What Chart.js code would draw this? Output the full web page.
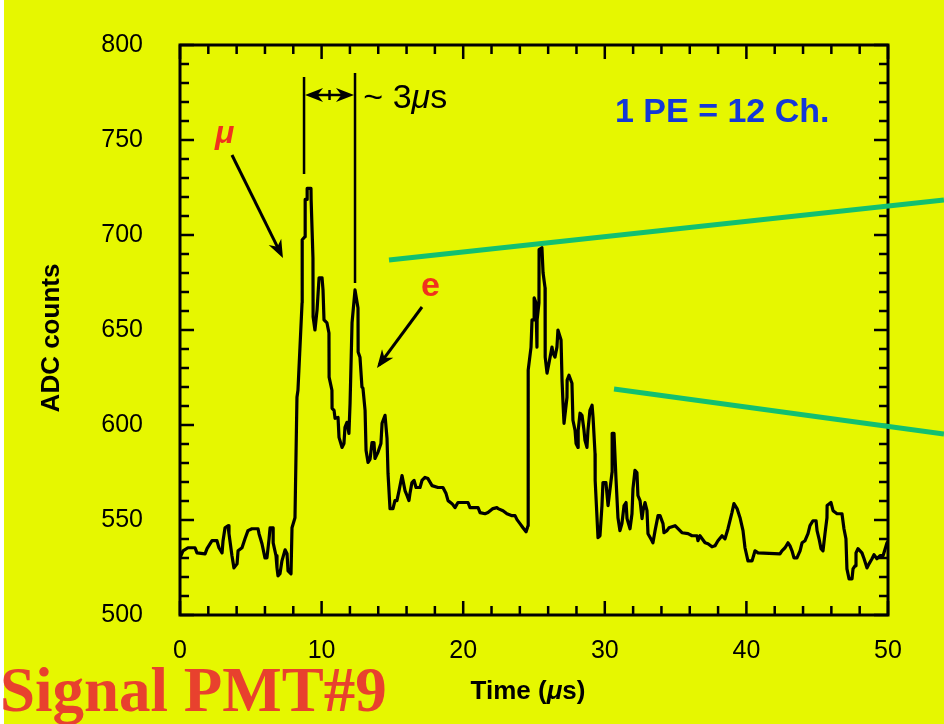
<!DOCTYPE html>
<html>
<head>
<meta charset="utf-8">
<title>Signal PMT#9</title>
<script src="https://cdn.jsdelivr.net/npm/chart.js@4.4.1/dist/chart.umd.min.js"></script>
<style>
  html, body { margin: 0; padding: 0; background: #e6f700; }
  canvas { display: block; }
</style>
</head>
<body>
<canvas id="trace" width="944" height="724"></canvas>
<script>
// Sampled PMT waveform: time in microseconds and ADC counts
const timeUs = [
  0,0.21,0.56,1.06,1.20,1.77,1.91,2.26,2.61,2.75,
  2.97,3.04,3.18,3.39,3.46,3.67,3.81,4.03,4.10,4.38,
  4.59,4.80,5.08,5.51,5.58,5.79,6.00,6.14,6.29,6.36,
  6.57,6.58,6.78,6.85,6.92,7.06,7.20,7.42,7.56,7.63,
  7.84,7.91,8.12,8.26,8.33,8.62,8.63,8.83,8.84,8.97,
  8.98,9.25,9.26,9.39,9.40,9.53,9.68,9.82,10.03,10.10,
  10.17,10.38,10.52,10.53,10.73,10.74,10.88,10.95,11.16,11.23,
  11.44,11.58,11.65,11.79,11.93,12.01,12.15,12.36,12.57,12.58,
  12.71,12.85,12.92,13.07,13.14,13.28,13.42,13.56,13.70,13.77,
  13.98,14.19,14.27,14.48,14.62,14.69,14.83,15.04,15.18,15.32,
  15.47,15.68,15.75,15.89,16.03,16.17,16.24,16.38,16.53,16.67,
  16.95,17.09,17.30,17.51,17.80,18.22,18.57,18.79,18.93,19.21,
  19.42,19.63,20.34,20.48,21.05,21.19,21.54,21.75,22.10,22.39,
  22.46,22.81,23.09,23.45,23.66,23.80,24.01,24.22,24.44,24.58,
  24.59,24.79,24.86,25.00,25.01,25.14,25.21,25.22,25.35,25.36,
  25.56,25.64,25.78,25.79,25.92,26.06,26.27,26.34,26.48,26.62,
  26.69,26.91,26.98,27.05,27.12,27.33,27.34,27.47,27.68,27.75,
  27.90,27.97,28.11,28.12,28.25,28.39,28.53,28.60,28.74,28.81,
  28.95,29.10,29.17,29.31,29.32,29.52,29.66,29.80,29.87,30.08,
  30.23,30.51,30.52,30.65,30.79,30.93,31.07,31.21,31.36,31.50,
  31.57,31.78,31.92,31.99,32.13,32.27,32.34,32.49,32.63,32.70,
  32.84,32.98,33.05,33.33,33.40,33.55,33.76,33.90,34.11,34.18,
  34.39,34.53,34.96,35.17,35.45,35.88,36.16,36.51,36.58,36.72,
  37.08,37.29,37.57,37.78,37.99,38.28,38.49,38.70,38.98,39.12,
  39.34,39.55,39.76,39.90,40.11,40.40,40.61,40.82,42.37,42.51,
  42.73,42.94,43.08,43.22,43.36,43.57,43.79,43.93,44.14,44.35,
  44.49,44.70,44.92,44.99,45.13,45.27,45.41,45.55,45.69,45.70,
  45.97,46.12,46.40,46.75,46.89,47.03,47.10,47.25,47.46,47.53,
  47.67,47.74,47.88,48.16,48.31,48.52,48.66,48.87,49.01,49.22,
  49.44,49.65,49.93,50.00
];
const adcCounts = [
  530.1,533.8,535.4,535.4,532.7,532.2,534.9,539.1,539.1,535.4,
  532.7,539.1,545.9,547.0,542.8,531.2,524.8,526.9,533.8,535.4,
  540.1,544.4,545.4,545.4,542.8,537.5,530.1,530.1,540.1,545.9,
  545.9,538.0,531.2,524.8,520.6,521.7,528.5,534.3,532.2,523.2,
  521.7,545.9,551.2,614.6,618.3,664.3,697.5,699.1,718.7,718.7,
  724.5,724.5,718.7,688.0,656.9,650.0,660.6,677.5,677.5,671.1,
  655.3,653.7,648.4,625.2,618.3,608.8,607.7,603.5,604.0,593.5,
  588.2,590.3,598.8,601.4,595.6,611.4,653.7,671.1,661.6,638.4,
  635.7,619.9,619.4,607.7,586.6,580.3,581.9,590.8,590.8,582.4,
  585.6,590.3,600.9,605.1,593.0,574.5,556.0,556.0,560.2,560.2,
  565.5,573.4,570.8,565.5,562.9,560.2,563.9,569.7,570.8,567.1,
  567.1,570.8,572.4,571.8,568.1,567.1,567.1,563.9,560.2,558.6,
  556.5,559.2,559.2,556.5,556.5,553.9,553.3,553.9,556.0,556.5,
  556.0,554.9,553.3,552.3,552.3,550.2,548.1,545.9,543.8,547.0,
  628.9,641.0,655.3,655.3,666.9,664.3,641.0,655.3,664.3,692.3,
  693.3,680.1,672.2,635.7,627.3,632.6,641.0,637.9,635.7,641.0,
  650.0,644.7,623.6,611.4,600.9,614.6,623.6,626.2,622.0,602.5,
  597.2,590.3,588.2,597.2,606.2,605.1,597.2,591.9,588.2,597.2,
  607.7,610.4,604.0,585.0,570.8,540.7,541.7,557.6,569.7,569.7,
  557.6,575.0,595.6,595.6,571.8,551.2,544.4,548.1,557.6,559.2,
  550.7,545.4,553.3,566.5,576.1,575.0,562.9,560.2,550.7,554.9,
  559.2,554.9,542.8,539.1,538.0,544.4,552.3,552.3,548.1,543.3,
  544.4,545.9,547.0,545.4,543.3,542.8,541.7,541.7,539.1,541.7,
  538.0,537.5,535.9,536.4,539.1,541.7,540.1,545.4,553.9,558.6,
  556.0,551.2,544.4,535.4,528.5,528.5,533.8,532.7,532.2,533.8,
  535.4,538.0,536.4,533.8,530.1,530.1,533.8,538.0,539.1,542.8,
  547.0,549.6,549.6,544.4,540.1,534.9,533.8,542.8,551.2,557.6,
  559.2,554.9,553.3,553.3,545.4,540.1,524.3,519.0,519.0,524.3,
  525.9,532.7,534.9,532.7,529.6,524.8,526.9,529.6,531.7,529.6,
  531.2,531.2,538.0,538.6
];

// Axis tick labels (major) and minor tick spacing
const timeTicks = [0, 10, 20, 30, 40, 50];
const adcTicks = [500, 550, 600, 650, 700, 750, 800];
const timeMinorStep = 2;
const adcMinorStep = 10;

// Annotation anchors, in data units (time µs, ADC counts)
const notes = {
  muLabel:   { t: 2.47,  v: 748.4 },
  muArrow:   { from: { t: 3.67, v: 742.1 }, to: { t: 7.27, v: 687.9 } },
  eLabel:    { t: 17.02, v: 667.9 },
  eArrow:    { from: { t: 17.09, v: 662.1 }, to: { t: 13.91, v: 630.0 } },
  gapLeft:   { t: 8.76,  top: 783.2, bottom: 732.1 },
  gapRight:  { t: 12.36, top: 785.3, bottom: 674.7 },
  gapArrowV: 773.7,
  gapText:   { t: 12.95, v: 766.8 },
  peText:    { t: 30.72, v: 759.5 },
  greenUpper: { from: { t: 14.76, v: 686.8 }, to: { t: 53.95, v: 718.4 } },
  greenLower: { from: { t: 30.65, v: 618.9 }, to: { t: 53.95, v: 595.3 } }
};

const SANS = '"Liberation Sans", Arial, Helvetica, sans-serif';
const SERIF = '"Liberation Serif", "Times New Roman", serif';
const colors = {
  background: '#e6f700',
  ink: '#000000',
  green: '#12c070',
  red: '#f0321e',
  blue: '#1438d8',
  banner: '#e8412e'
};

function px(chart, t, v) {
  return [chart.scales.x.getPixelForValue(t), chart.scales.y.getPixelForValue(v)];
}

function arrowHead(c, x1, y1, x2, y2, len, half) {
  const a = Math.atan2(y2 - y1, x2 - x1);
  c.beginPath();
  c.moveTo(x2, y2);
  c.lineTo(x2 - len * Math.cos(a) + half * Math.sin(a), y2 - len * Math.sin(a) - half * Math.cos(a));
  c.lineTo(x2 - len * 0.7 * Math.cos(a), y2 - len * 0.7 * Math.sin(a));
  c.lineTo(x2 - len * Math.cos(a) - half * Math.sin(a), y2 - len * Math.sin(a) + half * Math.cos(a));
  c.closePath();
  c.fill();
}

function arrow(c, x1, y1, x2, y2) {
  c.beginPath();
  c.moveTo(x1, y1);
  c.lineTo(x2 - (x2 - x1) * 0.05, y2 - (y2 - y1) * 0.05);
  c.stroke();
  arrowHead(c, x1, y1, x2, y2, 18, 7);
}

// Draws a run of text pieces with individual font styles, left to right
function richText(c, x, y, pieces) {
  let cx = x;
  for (const p of pieces) {
    c.font = p.font;
    c.fillText(p.text, cx, y);
    cx += c.measureText(p.text).width;
  }
  return cx;
}
function richWidth(c, pieces) {
  let w = 0;
  for (const p of pieces) { c.font = p.font; w += c.measureText(p.text).width; }
  return w;
}

const decor = {
  id: 'decor',
  beforeDraw(chart) {
    const c = chart.ctx;
    c.save();
    c.fillStyle = colors.background;
    c.fillRect(0, 0, chart.width, chart.height);
    c.fillStyle = '#ffffff';
    c.fillRect(0, 0, 4, chart.height);
    c.restore();
  },
  beforeDatasetsDraw(chart) {
    const c = chart.ctx;
    const { left, right, top, bottom } = chart.chartArea;
    const xs = chart.scales.x, ys = chart.scales.y;
    c.save();
    c.strokeStyle = colors.ink;
    c.lineWidth = 3;
    c.strokeRect(left, top, right - left, bottom - top);

    c.lineWidth = 2.5;
    c.beginPath();
    for (let t = xs.min; t <= xs.max + 1e-9; t += timeMinorStep) {
      const x = xs.getPixelForValue(t);
      const L = timeTicks.includes(t) ? 14 : 9;
      c.moveTo(x, bottom); c.lineTo(x, bottom - L);
      c.moveTo(x, top); c.lineTo(x, top + L);
    }
    for (let v = ys.min; v <= ys.max + 1e-9; v += adcMinorStep) {
      const y = ys.getPixelForValue(v);
      const L = adcTicks.includes(v) ? 14 : 9;
      c.moveTo(left, y); c.lineTo(left + L, y);
      c.moveTo(right, y); c.lineTo(right - L, y);
    }
    c.stroke();

    // guide lines
    c.strokeStyle = colors.green;
    c.lineWidth = 5;
    for (const g of [notes.greenUpper, notes.greenLower]) {
      const [x1, y1] = px(chart, g.from.t, g.from.v);
      const [x2, y2] = px(chart, g.to.t, g.to.v);
      c.beginPath(); c.moveTo(x1, y1); c.lineTo(x2, y2); c.stroke();
    }
    c.restore();
  },
  afterDraw(chart) {
    const c = chart.ctx;
    const { left, right, top, bottom } = chart.chartArea;
    c.save();
    c.strokeStyle = colors.ink;
    c.fillStyle = colors.ink;
    c.lineWidth = 3;
    c.lineCap = 'butt';

    // µ and e arrows
    let [a1, b1] = px(chart, notes.muArrow.from.t, notes.muArrow.from.v);
    let [a2, b2] = px(chart, notes.muArrow.to.t, notes.muArrow.to.v);
    arrow(c, a1, b1, a2, b2);
    [a1, b1] = px(chart, notes.eArrow.from.t, notes.eArrow.from.v);
    [a2, b2] = px(chart, notes.eArrow.to.t, notes.eArrow.to.v);
    arrow(c, a1, b1, a2, b2);

    // ~3 µs separation bracket
    c.lineWidth = 2.5;
    const [lx, lt] = px(chart, notes.gapLeft.t, notes.gapLeft.top);
    const lb = chart.scales.y.getPixelForValue(notes.gapLeft.bottom);
    const [rx, rt] = px(chart, notes.gapRight.t, notes.gapRight.top);
    const rb = chart.scales.y.getPixelForValue(notes.gapRight.bottom);
    c.beginPath();
    c.moveTo(lx, lt); c.lineTo(lx, lb);
    c.moveTo(rx, rt); c.lineTo(rx, rb);
    c.stroke();
    const ay = chart.scales.y.getPixelForValue(notes.gapArrowV);
    const mid = (lx + rx) / 2;
    c.beginPath();
    c.moveTo(lx + 10, ay); c.lineTo(rx - 10, ay);
    c.moveTo(mid, ay - 5); c.lineTo(mid, ay + 5);
    c.stroke();
    arrowHead(c, mid, ay, lx + 1, ay, 18, 7);
    arrowHead(c, mid, ay, rx - 1, ay, 18, 7);

    c.textBaseline = 'alphabetic';
    c.textAlign = 'left';
    const [gx, gy] = px(chart, notes.gapText.t, notes.gapText.v);
    richText(c, gx, gy, [
      { text: '~ 3', font: `34px ${SANS}` },
      { text: 'μ', font: `italic 34px ${SANS}` },
      { text: 's', font: `34px ${SANS}` }
    ]);

    // particle labels
    c.fillStyle = colors.red;
    const [mx, my] = px(chart, notes.muLabel.t, notes.muLabel.v);
    c.font = `italic bold 32px ${SANS}`;
    c.fillText('μ', mx, my);
    const [ex, ey] = px(chart, notes.eLabel.t, notes.eLabel.v);
    c.font = `bold 34px ${SANS}`;
    c.fillText('e', ex, ey);

    // calibration note
    c.fillStyle = colors.blue;
    const [qx, qy] = px(chart, notes.peText.t, notes.peText.v);
    c.font = `bold 34px ${SANS}`;
    c.fillText('1 PE = 12 Ch.', qx, qy);

    // axis titles
    c.fillStyle = colors.ink;
    c.save();
    c.translate(52, (top + bottom) / 2 + 8);
    c.rotate(-Math.PI / 2);
    c.textAlign = 'center';
    c.textBaseline = 'middle';
    c.font = `bold 26px ${SANS}`;
    c.fillText('ADC counts', 0, 0);
    c.restore();

    const xTitle = [
      { text: 'Time (', font: `bold 26px ${SANS}` },
      { text: 'μ', font: `italic bold 26px ${SANS}` },
      { text: 's)', font: `bold 26px ${SANS}` }
    ];
    c.textBaseline = 'middle';
    const w = richWidth(c, xTitle);
    richText(c, (left + right) / 2 - w / 2 - 6, 692, xTitle);

    // panel banner
    c.fillStyle = colors.banner;
    c.textBaseline = 'alphabetic';
    c.font = `bold 63px ${SERIF}`;
    c.fillText('Signal PMT#9', 0, 711);
    c.restore();
  }
};

const points = timeUs.map((t, i) => ({ x: t, y: adcCounts[i] }));

// Keep the plot frame fixed: drop the edge padding Chart.js reserves for labels
function noEdgePadding(s) {
  s.paddingTop = 0; s.paddingBottom = 0; s.paddingLeft = 0; s.paddingRight = 0;
}

new Chart(document.getElementById('trace'), {
  type: 'line',
  data: {
    datasets: [{
      data: points,
      borderColor: colors.ink,
      borderWidth: 3.2,
      borderJoinStyle: 'round',
      pointRadius: 0,
      tension: 0,
      fill: false
    }]
  },
  options: {
    responsive: false,
    animation: false,
    devicePixelRatio: 1,
    layout: { padding: { left: 0, right: 56, top: 45, bottom: 0 } },
    plugins: { legend: { display: false }, tooltip: { enabled: false } },
    scales: {
      x: {
        type: 'linear',
        min: timeTicks[0],
        max: timeTicks[timeTicks.length - 1],
        grid: { display: false, drawTicks: false },
        border: { display: false },
        ticks: {
          font: { family: SANS, size: 25 },
          color: colors.ink,
          padding: 21,
          maxRotation: 0,
          autoSkip: false
        },
        afterBuildTicks: s => { s.ticks = timeTicks.map(v => ({ value: v })); },
        afterFit: s => { s.height = 109; noEdgePadding(s); }
      },
      y: {
        type: 'linear',
        min: adcTicks[0],
        max: adcTicks[adcTicks.length - 1],
        grid: { display: false, drawTicks: false },
        border: { display: false },
        ticks: {
          font: { family: SANS, size: 25 },
          color: colors.ink,
          padding: 37,
          autoSkip: false
        },
        afterBuildTicks: s => { s.ticks = adcTicks.map(v => ({ value: v })); },
        afterFit: s => { s.width = 180; noEdgePadding(s); }
      }
    }
  },
  plugins: [decor]
});
</script>
</body>
</html>
